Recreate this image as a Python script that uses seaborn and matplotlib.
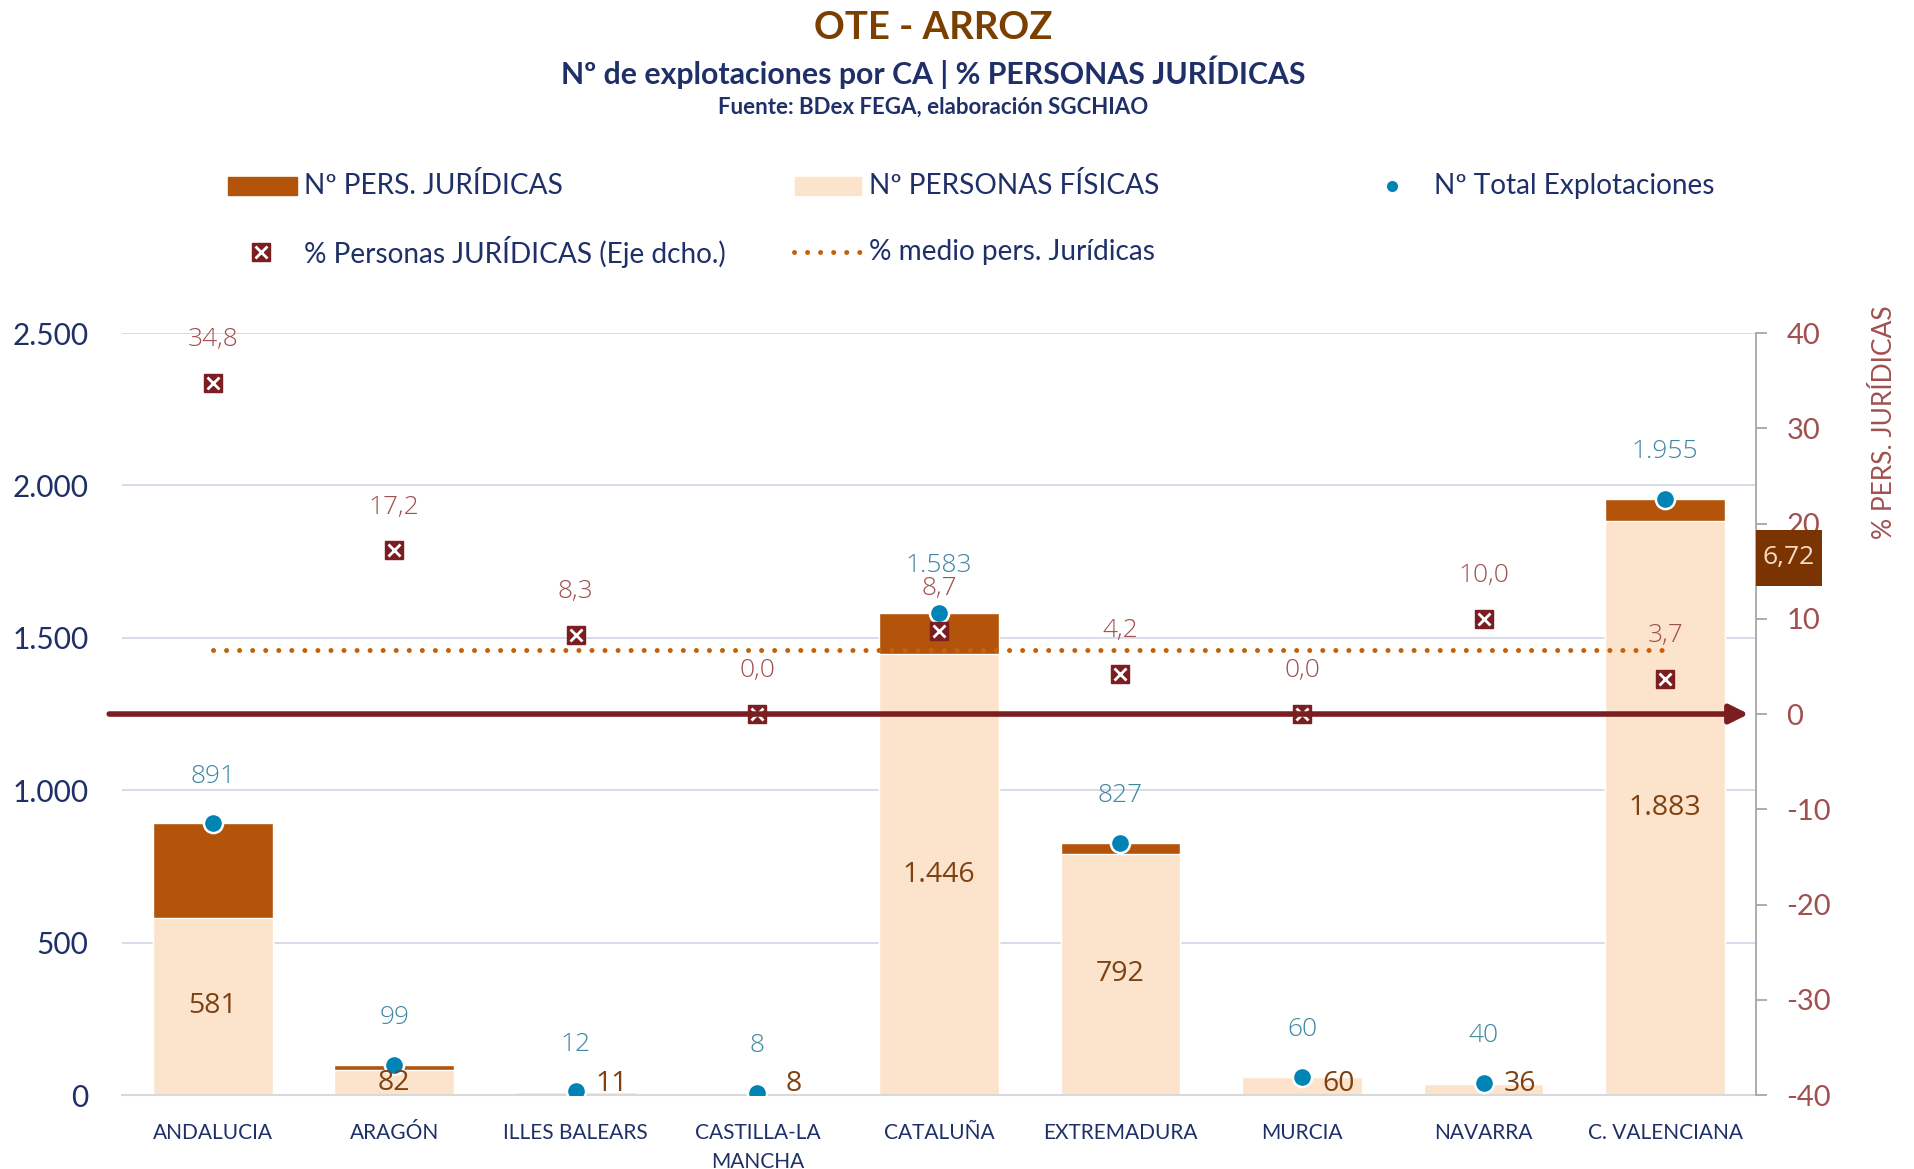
import numpy as np
import matplotlib.pyplot as plt
import matplotlib.ticker as mticker
from matplotlib.patches import Rectangle
import seaborn as sns

# 1. DATA
categorias = ["ANDALUCIA", "ARAGÓN", "ILLES BALEARS", "CASTILLA-LA\nMANCHA", "CATALUÑA",
              "EXTREMADURA", "MURCIA", "NAVARRA", "C. VALENCIANA"]
fisicas = [581, 82, 11, 8, 1446, 792, 60, 36, 1883]
totales = [891, 99, 12, 8, 1583, 827, 60, 40, 1955]
pct_juridicas = [34.8, 17.2, 8.3, 0.0, 8.7, 4.2, 0.0, 10.0, 3.7]
pct_medio = 6.72

# 2. STYLE
sns.set_style("white")
plt.rcParams["font.family"] = ["Lato", "DejaVu Sans"]

c_jur = "#B3540A"
c_fis = "#FCE3CB"
c_tot = "#0083B5"
c_pct = "#7A1E22"
c_medio = "#C2620E"
c_navy = "#1F3068"
c_rosa = "#A0504F"
c_teal = "#3E87A2"
c_marron = "#7E4112"
label_font = ["Open Sans", "DejaVu Sans"]

def miles(v):
    return f"{int(round(v)):,}".replace(",", ".")

def decimal(v):
    return f"{v:.1f}".replace(".", ",")

# 3. FIGURE
fig = plt.figure(figsize=(19.14, 11.69), dpi=100)
ax = fig.add_axes([0.0637, 0.0633, 0.8537, 0.6518])
pos = np.arange(len(categorias))

# stacked bars: total bar (juridicas colour) with fisicas on top of it
sns.barplot(x=categorias, y=totales, color=c_jur, saturation=1, width=0.66, ax=ax, zorder=2)
sns.barplot(x=categorias, y=fisicas, color=c_fis, saturation=1, width=0.66, ax=ax, zorder=2)

# total dots
sns.scatterplot(x=pos, y=totales, color=c_tot, s=190, edgecolor="white", linewidth=1.8,
                ax=ax, zorder=5, legend=False)

for i, (f, t) in enumerate(zip(fisicas, totales)):
    ax.annotate(miles(t), (i, t), xytext=(0, 34), textcoords="offset points",
                ha="center", va="center", fontsize=19, color=c_teal,
                family=label_font, fontweight="light")
    dx = 0.2 if f < 70 else 0
    ax.text(i + dx, max(f / 2, 35), miles(f), ha="center", va="center", fontsize=20.5,
            color=c_marron, family=label_font, zorder=6)

ax.set_xlim(-0.5, len(categorias) - 0.5)
ax.set_ylim(0, 2500)
ax.yaxis.set_major_locator(mticker.MultipleLocator(500))
ax.yaxis.set_major_formatter(mticker.FuncFormatter(lambda v, p: miles(v)))
ax.yaxis.grid(True, color="#D5D9E6", lw=1.3, zorder=0)
ax.set_axisbelow(True)
ax.set_xlabel("")
ax.set_ylabel("")
for s in ["top", "left", "right"]:
    ax.spines[s].set_visible(False)
ax.spines["bottom"].set_color("#D9D9D9")
ax.spines["bottom"].set_linewidth(1.5)
ax.tick_params(axis="y", length=0, pad=24, labelsize=21.5, labelcolor=c_navy)
ax.tick_params(axis="x", length=0, pad=20, labelsize=15, labelcolor=c_navy)
for lbl in ax.get_xticklabels():
    lbl.set_linespacing(1.55)

# 4. RIGHT AXIS (% personas juridicas)
ax2 = ax.twinx()
ax2.set_ylim(-40, 40)
ax2.yaxis.set_major_locator(mticker.MultipleLocator(10))
ax2.yaxis.set_major_formatter(mticker.FuncFormatter(lambda v, p: f"{int(v)}"))
ax2.plot(pos, pct_juridicas, ls="none", marker="s", ms=13.5, color=c_pct, zorder=6)
ax2.plot(pos, pct_juridicas, ls="none", marker="x", ms=8.5, mew=2, color="white", zorder=7)
for i, p in enumerate(pct_juridicas):
    ax2.annotate(decimal(p), (i, p), xytext=(0, 31), textcoords="offset points",
                 ha="center", va="center", fontsize=19, color=c_rosa,
                 family=label_font, fontweight="light")

# mean line
ax2.hlines(pct_medio, 0, len(categorias) - 1, color=c_medio, lw=3.6,
           linestyles=(0, (0.01, 2.6)), capstyle="round", zorder=4)

# arrow at 0
ax2.annotate("", xy=(8.46, 0), xytext=(-0.57, 0),
             arrowprops=dict(arrowstyle="-|>", color=c_pct, lw=4, mutation_scale=28,
                             shrinkA=0, shrinkB=0),
             annotation_clip=False, zorder=8)

for s in ["top", "left", "bottom"]:
    ax2.spines[s].set_visible(False)
ax2.spines["right"].set_color("#A6A6A6")
ax2.spines["right"].set_linewidth(1.3)
ax2.tick_params(axis="y", length=8, width=1.3, color="#A6A6A6", pad=14,
                labelsize=21, labelcolor=c_rosa)
ax2.set_ylabel("% PERS. JURÍDICAS", fontsize=19, color=c_rosa)
ax2.yaxis.set_label_coords(1.071, 0.883)
ax2.grid(False)

# mean value box on the right axis
ax2.add_patch(Rectangle((1.0, 0.668), 0.0404, 0.0735, transform=ax2.transAxes,
                        fc="#7A3402", ec="none", clip_on=False, zorder=9))
ax2.text(1.0202, 0.705, str(pct_medio).replace(".", ","), transform=ax2.transAxes,
         ha="center", va="center", fontsize=19, color="#F6DCC4", family=label_font,
         zorder=10)

# 5. TITLES AND LEGEND (pixel coords overlay)
lax = fig.add_axes([0, 0, 1, 1])
lax.set_xlim(0, 1914)
lax.set_ylim(1169, 0)
lax.axis("off")

lax.text(933, 28, "OTE - ARROZ", ha="center", va="center", fontsize=27.5,
         fontweight="bold", color="#7B3F00")
lax.text(933, 72, "Nº de explotaciones por CA | % PERSONAS JURÍDICAS", ha="center",
         va="center", fontsize=21.8, fontweight="bold", color=c_navy)
lax.text(933, 107, "Fuente: BDex FEGA, elaboración SGCHIAO", ha="center", va="center",
         fontsize=16, fontweight="bold", color=c_navy)

ley = dict(va="center", ha="left", fontsize=20.2, color=c_navy)
lax.add_patch(Rectangle((228, 177), 69, 18, color=c_jur))
lax.text(304, 186, "Nº PERS. JURÍDICAS", **ley)
lax.add_patch(Rectangle((795, 177), 66, 18, color=c_fis))
lax.text(869, 186, "Nº PERSONAS FÍSICAS", **ley)
lax.plot([1392], [186], marker="o", ms=9, color=c_tot, mec="white")
lax.text(1434, 186, "Nº Total Explotaciones", **ley)
lax.plot([261], [252], marker="s", ms=13.5, color=c_pct)
lax.plot([261], [252], marker="x", ms=8.5, mew=2, color="white")
lax.text(304, 252, "% Personas JURÍDICAS (Eje dcho.)", **ley)
lax.plot([794, 861], [252, 252], color=c_medio, lw=3.6, ls=(0, (0.01, 2.6)),
         dash_capstyle="round")
lax.text(869, 252, "% medio pers. Jurídicas", **ley)

plt.savefig("out.png", dpi=100)
